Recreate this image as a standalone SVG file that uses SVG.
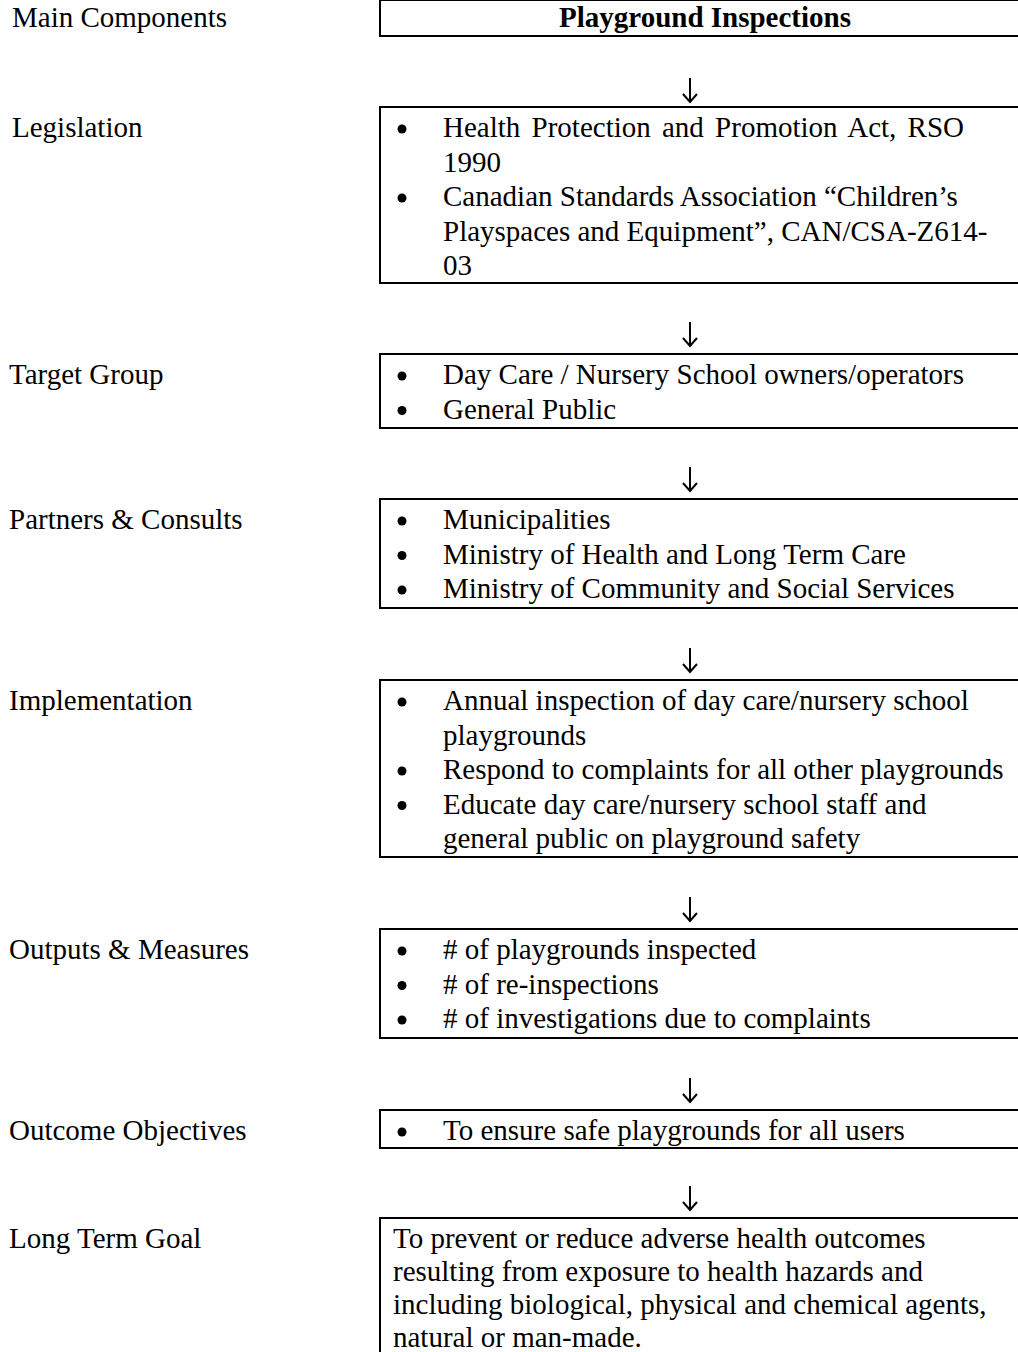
<svg xmlns="http://www.w3.org/2000/svg" width="1018" height="1352" viewBox="0 0 1018 1352">
<style>
text{font-family:"Liberation Serif","Times New Roman",serif;font-size:29px;fill:#000}
.b{font-weight:bold}
.box{fill:none;stroke:#000;stroke-width:2}
.dot{fill:#000}
.arr{fill:none;stroke:#000;stroke-width:2}
</style>
<rect width="1018" height="1352" fill="#fff"/>
<g id="labels">
<text x="12" y="27">Main Components</text>
<text x="12" y="137">Legislation</text>
<text x="9" y="384">Target Group</text>
<text x="9" y="529">Partners &amp; Consults</text>
<text x="9" y="710">Implementation</text>
<text x="9" y="959">Outputs &amp; Measures</text>
<text x="9" y="1140">Outcome Objectives</text>
<text x="9" y="1248">Long Term Goal</text>
</g>
<g id="connectors">
<g class="arr">
<path d="M690 78V102M683 94L690 102L697 94"/>
<path d="M690 322V346M683 338L690 346L697 338"/>
<path d="M690 467V491M683 483L690 491L697 483"/>
<path d="M690 648V672M683 664L690 672L697 664"/>
<path d="M690 897V921M683 913L690 921L697 913"/>
<path d="M690 1078V1102M683 1094L690 1102L697 1094"/>
<path d="M690 1186V1210M683 1202L690 1210L697 1202"/>
</g>
</g>
<g id="n-title">
<rect class="box" x="380" y="0" width="650" height="36"/>
<text class="b" x="705" y="27" text-anchor="middle">Playground Inspections</text>
</g>
<g id="n-legislation">
<rect class="box" x="380" y="107" width="650" height="176"/>
<circle class="dot" cx="402" cy="129" r="4.5"/>
<circle class="dot" cx="402" cy="198" r="4.5"/>
<text x="443" y="137" word-spacing="4">Health Protection and Promotion Act, RSO</text>
<text x="443" y="171.5">1990</text>
<text x="443" y="206">Canadian Standards Association “Children’s</text>
<text x="443" y="240.5">Playspaces and Equipment”, CAN/CSA-Z614-</text>
<text x="443" y="275">03</text>
</g>
<g id="n-target">
<rect class="box" x="380" y="354" width="650" height="74"/>
<circle class="dot" cx="402" cy="376" r="4.5"/>
<circle class="dot" cx="402" cy="410.5" r="4.5"/>
<text x="443" y="384">Day Care / Nursery School owners/operators</text>
<text x="443" y="418.5">General Public</text>
</g>
<g id="n-partners">
<rect class="box" x="380" y="499" width="650" height="109"/>
<circle class="dot" cx="402" cy="521" r="4.5"/>
<circle class="dot" cx="402" cy="555.5" r="4.5"/>
<circle class="dot" cx="402" cy="590" r="4.5"/>
<text x="443" y="529">Municipalities</text>
<text x="443" y="563.5">Ministry of Health and Long Term Care</text>
<text x="443" y="598">Ministry of Community and Social Services</text>
</g>
<g id="n-implementation">
<rect class="box" x="380" y="680" width="650" height="177"/>
<circle class="dot" cx="402" cy="702" r="4.5"/>
<circle class="dot" cx="402" cy="771" r="4.5"/>
<circle class="dot" cx="402" cy="805.5" r="4.5"/>
<text x="443" y="710">Annual inspection of day care/nursery school</text>
<text x="443" y="744.5">playgrounds</text>
<text x="443" y="779">Respond to complaints for all other playgrounds</text>
<text x="443" y="813.5">Educate day care/nursery school staff and</text>
<text x="443" y="848">general public on playground safety</text>
</g>
<g id="n-outputs">
<rect class="box" x="380" y="929" width="650" height="109"/>
<circle class="dot" cx="402" cy="951" r="4.5"/>
<circle class="dot" cx="402" cy="985.5" r="4.5"/>
<circle class="dot" cx="402" cy="1020" r="4.5"/>
<text x="443" y="959"># of playgrounds inspected</text>
<text x="443" y="993.5"># of re-inspections</text>
<text x="443" y="1028"># of investigations due to complaints</text>
</g>
<g id="n-outcome">
<rect class="box" x="380" y="1110" width="650" height="38"/>
<circle class="dot" cx="402" cy="1132" r="4.5"/>
<text x="443" y="1140">To ensure safe playgrounds for all users</text>
</g>
<g id="n-goal">
<rect class="box" x="380" y="1218" width="650" height="150"/>
<text x="393" y="1248">To prevent or reduce adverse health outcomes</text>
<text x="393" y="1281">resulting from exposure to health hazards and</text>
<text x="393" y="1314">including biological, physical and chemical agents,</text>
<text x="393" y="1347">natural or man-made.</text>
</g>
</svg>
